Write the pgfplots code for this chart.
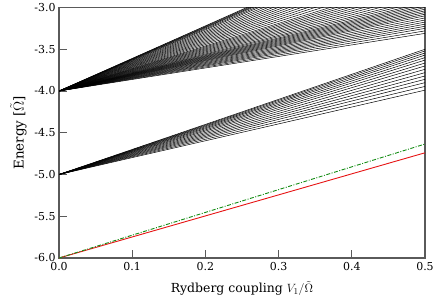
\documentclass[border=0pt]{standalone}
\usepackage{fontspec}
\setmainfont{DejaVu Serif}
\usepackage{pgfplots}
\pgfplotsset{compat=1.18}
\definecolor{axgray}{RGB}{90,90,90}
\definecolor{myred}{RGB}{230,20,20}
\definecolor{mygreen}{RGB}{20,140,20}
\begin{document}
\begin{tikzpicture}
\begin{axis}[
  scale only axis,
  width=366bp, height=250.5bp,
  xmin=0, xmax=0.5, ymin=-6, ymax=-3,
  xtick={0,0.1,0.2,0.3,0.4,0.5},
  ytick={-6,-5.5,-5,-4.5,-4,-3.5,-3},
  xtick pos=left, ytick pos=left,
  tick align=inside,
  major tick length=8bp,
  axis line style={axgray, line width=1.1bp},
  every tick/.style={axgray, line width=0.9bp},
  /pgf/number format/fixed,
  /pgf/number format/fixed zerofill,
  /pgf/number format/precision=1,
  /pgf/number format/assume math mode=true,
  tick label style={font=\fontsize{11}{13}\selectfont},
  xlabel style={font=\fontsize{12.5}{14}\selectfont, yshift=-4bp},
  ylabel style={font=\fontsize{13.5}{15}\selectfont, yshift=1bp},
  xticklabel style={yshift=-1bp},
  xlabel={Rydberg coupling $V_1/\tilde{\Omega}$},
  ylabel={Energy [$\tilde{\Omega}$]},
]
\coordinate (sw) at (rel axis cs:0,0);
\coordinate (ne) at (rel axis cs:1,1);
% upper fan from -4
\pgfplotsinvokeforeach{-3.31,-3.28,-3.25,-3.225,-3.20,-3.175,-3.15,-3.125,-3.10,-3.08,-3.06,-3.04,-3.02,-3.00,-2.98,-2.96,-2.94,-2.915,-2.89,-2.86,-2.83,-2.80,-2.77,-2.74,-2.71,-2.68,-2.65,-2.61,-2.57,-2.53,-2.49,-2.45,-2.41,-2.37,-2.33,-2.29,-2.25,-2.21,-2.17,-2.14,-2.11,-2.09,-2.07,-2.05}{
  \addplot[black, line width=0.5bp] coordinates {(0,-4) (0.5,#1)};
}
% second fan from -5
\pgfplotsinvokeforeach{-3.50,-3.52,-3.545,-3.57,-3.60,-3.63,-3.665,-3.70,-3.74,-3.78,-3.82,-3.86,-3.90,-3.945,-3.99}{
  \addplot[black, line width=0.5bp] coordinates {(0,-5) (0.5,#1)};
}
\addplot[myred, line width=0.9bp] coordinates {(0,-6) (0.5,-4.74)};
\addplot[mygreen, line width=0.9bp, dash pattern=on 4bp off 1.5bp on 1bp off 1.5bp] coordinates {(0,-6) (0.5,-4.635)};
\end{axis}
\pgfresetboundingbox
\path ([shift={(-59bp,-44bp)}]sw) rectangle ([shift={(12bp,7.5bp)}]ne);
\end{tikzpicture}
\end{document}
